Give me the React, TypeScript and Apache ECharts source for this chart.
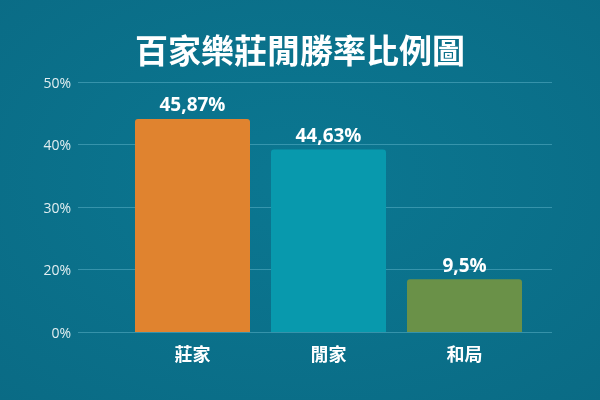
import { useEffect, useRef } from 'react';
import * as echarts from 'echarts';

const categories = ['莊家', '閒家', '和局'];
// values printed above the bars
const labelValues = [45.87, 44.63, 9.5];
// bar heights as read against the (unevenly labelled) axis, in %
const barHeights = [44.1, 39.2, 16.9];
const barColors = ['#e0832f', '#0899ad', '#6a9148'];
// tick labels sit on evenly spaced gridlines
const yTicks = [0, 20, 30, 40, 50];

const titleText = '百家樂莊閒勝率比例圖';

// map a percentage to its gridline position (the 0→20 step is drawn as wide as 20→30)
function toAxis(v: number): number {
    for (let i = 1; i < yTicks.length; i++) {
        if (v <= yTicks[i]) {
            return i - 1 + (v - yTicks[i - 1]) / (yTicks[i] - yTicks[i - 1]);
        }
    }
    return yTicks.length - 1;
}

export default function App() {
    const chartRef = useRef<HTMLDivElement>(null);

    useEffect(() => {
        if (!chartRef.current) return;
        const chart = echarts.init(chartRef.current, null, { renderer: 'svg' });

        const fontFamily = "'Noto Sans CJK TC', 'Noto Sans', sans-serif";

        chart.setOption({
            animation: false,
            backgroundColor: new echarts.graphic.RadialGradient(0.5, 0.45, 0.75, [
                { offset: 0, color: '#0b7791' },
                { offset: 1, color: '#0a6b85' },
            ]),
            title: {
                text: titleText,
                left: 'center',
                top: 27,
                textStyle: {
                    color: '#ffffff',
                    fontSize: 33,
                    fontWeight: 'bold',
                    fontFamily,
                },
            },
            grid: [
                { left: 78, right: 48, top: 82, bottom: 68 },
                { left: 124.5, right: 67.5, top: 82, bottom: 68 },
            ],
            xAxis: [
                { type: 'value', gridIndex: 0, show: false, min: 0, max: 1 },
                {
                    type: 'category',
                    gridIndex: 1,
                    data: categories,
                    axisLine: { show: false },
                    axisTick: { show: false },
                    axisLabel: {
                        color: '#ffffff',
                        fontSize: 18,
                        fontWeight: 'bold',
                        fontFamily,
                        margin: 12,
                    },
                },
            ],
            yAxis: [
                {
                    type: 'value',
                    gridIndex: 0,
                    min: 0,
                    max: yTicks.length - 1,
                    interval: 1,
                    axisLine: { show: false },
                    axisTick: { show: false },
                    axisLabel: {
                        color: '#e2eef1',
                        fontSize: 14,
                        fontFamily: "'Open Sans', sans-serif",
                        margin: 7,
                        formatter: (v: number) => yTicks[Math.round(v)] + '%',
                    },
                    splitLine: { lineStyle: { color: 'rgba(120, 200, 220, 0.4)', width: 1 } },
                },
                {
                    type: 'value',
                    gridIndex: 1,
                    min: 0,
                    max: yTicks.length - 1,
                    show: false,
                    splitLine: { show: false },
                },
            ],
            series: [
                {
                    type: 'bar',
                    xAxisIndex: 1,
                    yAxisIndex: 1,
                    barWidth: 115,
                    data: barHeights.map((h, i) => ({
                        value: toAxis(h),
                        itemStyle: { color: barColors[i], borderRadius: [3, 3, 0, 0] },
                    })),
                    label: {
                        show: true,
                        position: 'top',
                        distance: 5,
                        color: '#ffffff',
                        fontSize: 19,
                        fontWeight: 'bold',
                        fontFamily: "'Open Sans', 'Noto Sans', sans-serif",
                        formatter: (p: { dataIndex: number }) =>
                            String(labelValues[p.dataIndex]).replace('.', ',') + '%',
                    },
                },
            ],
        });

        return () => {
            chart.dispose();
        };
    }, []);

    return (
        <div
            ref={chartRef}
            style={{ position: 'fixed', left: 0, top: 0, width: 600, height: 400 }}
        />
    );
}
